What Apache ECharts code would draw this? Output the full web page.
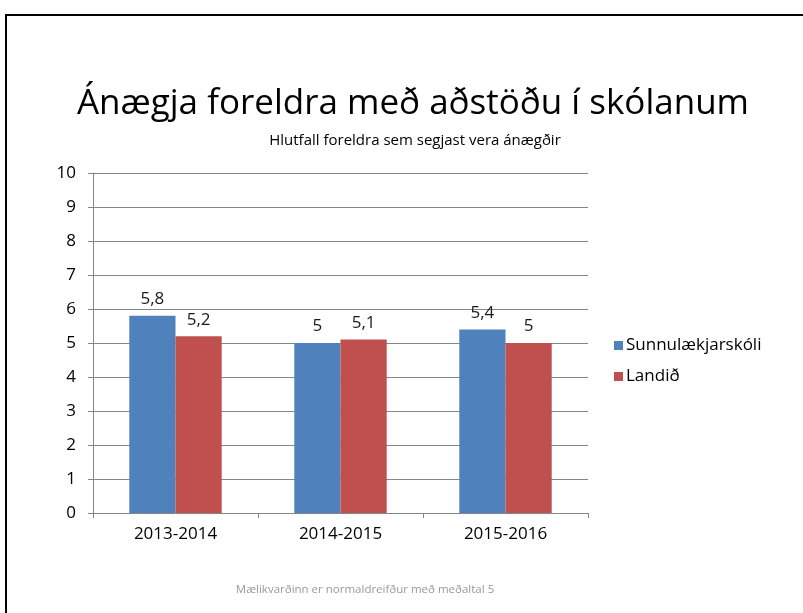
<!DOCTYPE html>
<html>
<head>
<meta charset="utf-8">
<script src="https://cdn.jsdelivr.net/npm/echarts@6/dist/echarts.min.js"></script>
<style>
  html, body { margin: 0; padding: 0; background: #fff; }
  #chart { width: 803px; height: 613px; }
</style>
</head>
<body>
<div id="chart"></div>
<script>
var categories = ["2013-2014", "2014-2015", "2015-2016"];
var skoli = [5.8, 5, 5.4];
var landid = [5.2, 5.1, 5];
var seriesNames = ["Sunnulækjarskóli", "Landið"];

var font = "'Open Sans', 'Noto Sans', sans-serif";
var chart = echarts.init(document.getElementById("chart"));

function label() {
  return {
    show: true,
    position: "top",
    distance: 8,
    color: "#1a1a1a",
    fontSize: 17,
    fontFamily: font,
    formatter: function (p) { return String(p.value).replace(".", ","); }
  };
}

chart.setOption({
  animation: false,
  title: [
    {
      text: "Ánægja foreldra með aðstöðu í skólanum",
      left: 408, top: 82, textAlign: "center",
      textStyle: { fontSize: 35, fontWeight: "normal", color: "#000", fontFamily: font }
    },
    {
      text: "Hlutfall foreldra sem segjast vera ánægðir",
      left: 410, top: 128, textAlign: "center",
      textStyle: { fontSize: 15, fontWeight: "normal", color: "#000", fontFamily: font }
    },
    {
      text: "Mælikvarðinn er normaldreifður með meðaltal 5",
      left: 360, top: 579, textAlign: "center",
      textStyle: { fontSize: 11.5, fontWeight: "normal", color: "#999", fontFamily: font }
    }
  ],
  graphic: [{
    type: "polyline",
    shape: { points: [[6, 613], [6, 15], [803, 15]] },
    style: { stroke: "#000", lineWidth: 2, fill: null }
  }],
  legend: {
    data: seriesNames,
    orient: "vertical",
    left: 609, top: 332,
    itemWidth: 9, itemHeight: 9, itemGap: 14,
    icon: "rect",
    textStyle: { fontSize: 17, color: "#000", fontFamily: font, padding: [0, 0, 0, -2] }
  },
  grid: { left: 93, right: 215, top: 173, bottom: 100 },
  xAxis: {
    type: "category",
    data: categories,
    axisLine: { lineStyle: { color: "#868686" } },
    axisTick: { show: true, length: 5, lineStyle: { color: "#868686" } },
    axisLabel: { fontSize: 17, color: "#000", margin: 13, fontFamily: font }
  },
  yAxis: {
    type: "value",
    min: 0, max: 10, interval: 1,
    axisLine: { show: true, lineStyle: { color: "#868686" } },
    axisTick: { show: true, length: 5, lineStyle: { color: "#868686" } },
    axisLabel: { fontSize: 17, color: "#000", margin: 17, fontFamily: font },
    splitLine: { lineStyle: { color: "#868686" } }
  },
  series: [
    {
      name: seriesNames[0], type: "bar", data: skoli,
      barGap: "0%", barCategoryGap: "44%",
      itemStyle: { color: "#4F81BD" },
      label: label()
    },
    {
      name: seriesNames[1], type: "bar", data: landid,
      itemStyle: { color: "#C0504D" },
      label: label()
    }
  ]
});
</script>
</body>
</html>
